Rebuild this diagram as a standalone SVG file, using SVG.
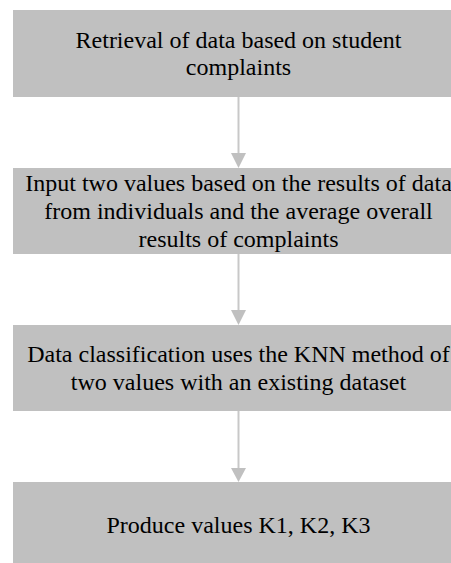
<svg xmlns="http://www.w3.org/2000/svg" width="451" height="563" viewBox="0 0 451 563">
<style>
.box{fill:#c0c0c0;}
.lbl{font-family:"Liberation Serif","Times New Roman",serif;font-size:24px;fill:#000;text-anchor:middle;}
.conn{stroke:#c8c8c8;stroke-width:2;fill:none;}
.head{fill:#c0c0c0;}
</style>
<rect width="451" height="563" fill="#ffffff"/>
<g id="connectors">
<line class="conn" x1="238.5" y1="97" x2="238.5" y2="155"/>
<polygon class="head" points="231,153 246,153 238.5,168"/>
<line class="conn" x1="238.5" y1="254" x2="238.5" y2="312"/>
<polygon class="head" points="231,310 246,310 238.5,325"/>
<line class="conn" x1="238.5" y1="411" x2="238.5" y2="469"/>
<polygon class="head" points="231,468 246,468 238.5,482"/>
</g>
<g id="node1">
<rect class="box" x="13" y="10" width="452" height="87"/>
<text class="lbl" x="238.5" y="47.7">Retrieval of data based on student</text>
<text class="lbl" x="238.5" y="75.3">complaints</text>
</g>
<g id="node2">
<rect class="box" x="13" y="168" width="452" height="86"/>
<text class="lbl" x="238.5" y="191">Input two values based on the results of data</text>
<text class="lbl" x="238.5" y="219">from individuals and the average overall</text>
<text class="lbl" x="238.5" y="247">results of complaints</text>
</g>
<g id="node3">
<rect class="box" x="13" y="325" width="452" height="86"/>
<text class="lbl" x="238.5" y="362">Data classification uses the KNN method of</text>
<text class="lbl" x="238.5" y="389.6">two values with an existing dataset</text>
</g>
<g id="node4">
<rect class="box" x="13" y="482" width="452" height="90"/>
<text class="lbl" x="238.5" y="533">Produce values K1, K2, K3</text>
</g>
</svg>
